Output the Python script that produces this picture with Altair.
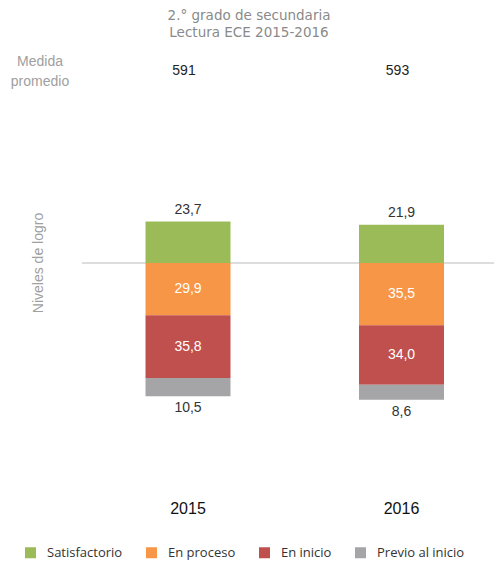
import altair as alt
import pandas as pd

years = ["2015", "2016"]
levels = ["Satisfactorio", "En proceso", "En inicio", "Previo al inicio"]
satisfactorio = [23.7, 21.9]
en_proceso = [29.9, 35.5]
en_inicio = [35.8, 34.0]
previo = [10.5, 8.6]
medida = ["591", "593"]
colors = ["#9BBB59", "#F79646", "#C0504D", "#A5A5A8"]

rows = []
for i, yr in enumerate(years):
    rows.append(dict(year=yr, level=levels[0], y=0.0, y2=satisfactorio[i], v=satisfactorio[i], pos="top"))
    a = -en_proceso[i]
    rows.append(dict(year=yr, level=levels[1], y=0.0, y2=a, v=en_proceso[i], pos="in"))
    b = a - en_inicio[i]
    rows.append(dict(year=yr, level=levels[2], y=a, y2=b, v=en_inicio[i], pos="in"))
    c = b - previo[i]
    rows.append(dict(year=yr, level=levels[3], y=b, y2=c, v=previo[i], pos="bottom"))
df = pd.DataFrame(rows)
df["mid"] = (df["y"] + df["y2"]) / 2
df["label"] = df["v"].map(lambda x: f"{x:.1f}".replace(".", ","))

W, H = 486, 553
px_per_unit = 1.75
zero_px = 255
ydom = [-(H - zero_px) / px_per_unit, zero_px / px_per_unit]

xs = alt.Scale(type="point", domain=years, range=[180, 393.5], padding=0)
ys = alt.Scale(domain=ydom, nice=False, zero=False)
X = alt.X("year:N", scale=xs, axis=None)

bars = alt.Chart(df).mark_bar(width=85).encode(
    x=X,
    y=alt.Y("y:Q", scale=ys, axis=None),
    y2="y2:Q",
    color=alt.Color("level:N", scale=alt.Scale(domain=levels, range=colors),
                    legend=alt.Legend(orient="none", legendX=16, legendY=538, direction="horizontal",
                                      columns=4, title=None, symbolType="square", symbolSize=121,
                                      symbolStrokeWidth=0, labelFont="Open Sans", labelFontSize=13,
                                      labelColor="#333333", columnPadding=22, labelOffset=10,
                                      symbolOpacity=1)),
)

rule = alt.Chart(pd.DataFrame({"z": [0]})).mark_rule(color="#BBBBBB", strokeWidth=1.2).encode(
    y=alt.Y("z:Q", scale=ys, axis=None), x=alt.value(74), x2=alt.value(494)
)

base_txt = dict(font="Liberation Sans", fontSize=14)
top_lbl = alt.Chart(df[df.pos == "top"]).mark_text(dy=-12, color="#333333", **base_txt).encode(
    x=X, y=alt.Y("y2:Q", scale=ys, axis=None), text="label:N")
bot_lbl = alt.Chart(df[df.pos == "bottom"]).mark_text(dy=12, color="#333333", **base_txt).encode(
    x=X, y=alt.Y("y2:Q", scale=ys, axis=None), text="label:N")
in_lbl = alt.Chart(df[df.pos == "in"]).mark_text(color="white", **base_txt).encode(
    x=X, y=alt.Y("mid:Q", scale=ys, axis=None), text="label:N")

ydf = pd.DataFrame({"year": years, "medida": medida})
year_lbl = alt.Chart(ydf).mark_text(font="Liberation Sans", fontSize=16, color="#111111").encode(
    x=X, y=alt.value(501), text="year:N")
med_lbl = alt.Chart(ydf).mark_text(font="Liberation Sans", fontSize=14, color="#222222", dx=-4).encode(
    x=X, y=alt.value(63), text="medida:N")

ann = pd.DataFrame({
    "t": ["2.° grado de secundaria", "Lectura ECE 2015-2016"],
    "row": [0, 1],
})
title = alt.Chart(ann).mark_text(font="DejaVu Sans", fontSize=13.5, color="#8A8A8A").encode(
    x=alt.value(241),
    y=alt.Y("row:O", scale=alt.Scale(type="point", range=[8, 25], padding=0), axis=None),
    text="t:N")

med_title = alt.Chart(pd.DataFrame({"t": ["Medida", "promedio"], "row": [0, 1]})).mark_text(
    font="Liberation Sans", fontSize=14, color="#A0A0A0").encode(
    x=alt.value(32),
    y=alt.Y("row:O", scale=alt.Scale(type="point", range=[54, 74], padding=0), axis=None),
    text="t:N")

niveles = alt.Chart(pd.DataFrame({"t": ["Niveles de logro"]})).mark_text(
    font="Liberation Sans", fontSize=14, color="#A0A0A0", angle=270).encode(
    x=alt.value(31), y=alt.value(255), text="t:N")

chart = alt.layer(rule, bars, top_lbl, bot_lbl, in_lbl, year_lbl, med_lbl, title, med_title, niveles).resolve_scale(
    y="independent"
).properties(
    width=W, height=H, autosize=alt.AutoSizeParams(type="none"), padding=0
).configure_view(stroke=None)

chart.save("out.html", embed_options={"renderer": "svg", "actions": False})
